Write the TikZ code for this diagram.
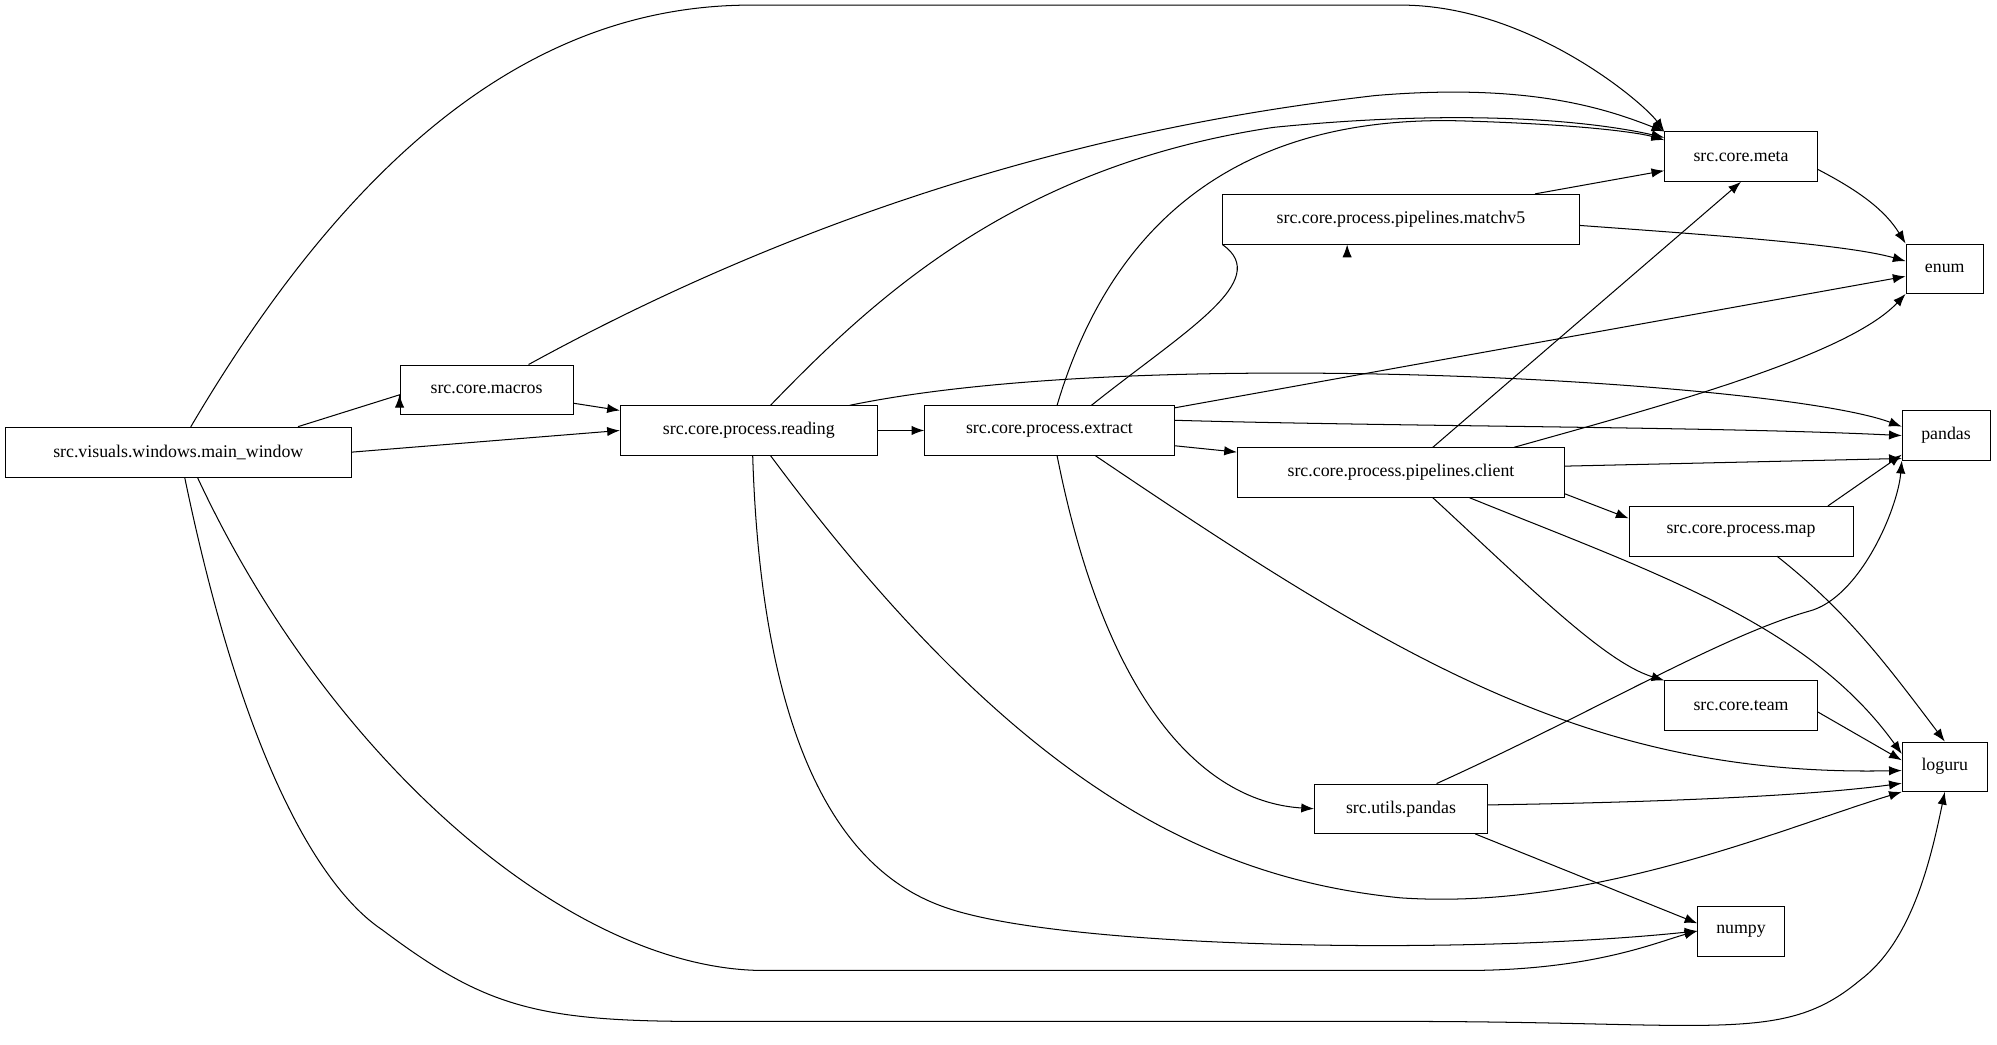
\documentclass[tikz,border=0pt]{standalone}
\usepackage{fontspec}
\setmainfont{Liberation Serif}
\usetikzlibrary{arrows.meta}
\begin{document}
\begin{tikzpicture}[x=0.75pt, y=-0.75pt,
    mod/.style={shape=rectangle, draw, minimum height=29.25pt, inner sep=0pt, font=\fontsize{10.5}{12}\selectfont},
    dep/.style={-{Latex[length=7.5pt,width=5.5pt]}, line width=0.6pt}]
    \useasboundingbox (0,0) rectangle (1568,820);

    \node (mw) at (140, 355) [mod, minimum width=204pt] {src.visuals.windows.main\_window};
    \node (macros) at (382, 306) [mod, minimum width=102pt] {src.core.macros};
    \node (reading) at (588, 338) [mod, minimum width=151.5pt] {src.core.process.reading};
    \node (extract) at (824, 338) [mod, minimum width=147pt] {src.core.process.extract};
    \node (meta) at (1367, 123) [mod, minimum width=90pt] {src.core.meta};
    \node (matchv5) at (1100, 172) [mod, minimum width=210pt] {src.core.process.pipelines.matchv5};
    \node (enum) at (1527, 211) [mod, minimum width=45.75pt] {enum};
    \node (pandas) at (1528, 342) [mod, minimum width=51.75pt] {pandas};
    \node (client) at (1100, 371) [mod, minimum width=192.75pt] {src.core.process.pipelines.client};
    \node (map) at (1367, 417) [mod, minimum width=132pt] {src.core.process.map};
    \node (team) at (1367, 554) [mod, minimum width=90pt] {src.core.team};
    \node (loguru) at (1527, 602) [mod, minimum width=50.25pt] {loguru};
    \node (utils) at (1100, 635) [mod, minimum width=102pt] {src.utils.pandas};
    \node (numpy) at (1367, 731) [mod, minimum width=51pt] {numpy};

    \draw[dep] (mw.north west) ++(146,0) .. controls (300,80) and (450,4) .. (590,4) -- (1100,4) .. controls (1200,4) and (1290,80) .. (meta.north west);
    \draw[dep] (mw) ++(94,-20) -- (macros.west |- 0,310) -- (macros);
    \draw[dep] (mw.east) -- (reading.west);
    \draw[dep] (mw.south) ++(15,0) .. controls (260,600) and (450,762) .. (600,762) -- (1150,762) .. controls (1250,762) and (1300,740) .. (numpy.west);
    \draw[dep] (mw.south) ++(5,0) .. controls (200,640) and (270,710) .. (300,730) .. controls (380,790) and (420,802) .. (550,802) -- (1100,802) .. controls (1350,802) and (1400,820) .. (1460,770) .. controls (1500,740) and (1515,680) .. (loguru.south);
    \draw[dep] (macros.north) ++(33,0) .. controls (700,130) and (950,90) .. (1080,75) .. controls (1200,65) and (1260,85) .. (meta.north west);
    \draw[dep] (macros) -- (reading);
    \draw[dep] (reading) -- (extract);
    \draw[dep] (reading.north) ++(17,0) .. controls (690,230) and (800,130) .. (1000,100) .. controls (1150,85) and (1250,95) .. (meta.west |- 0,108);
    \draw[dep] (reading.north east) ++(-22,0) .. controls (900,270) and (1400,300) .. (pandas.west |- 0,335);
    \draw[dep] (reading.south) ++(17,0) .. controls (800,620) and (950,690) .. (1100,705) .. controls (1250,715) and (1400,650) .. (loguru.south west);
    \draw[dep] (reading.south) ++(3,0) .. controls (600,650) and (700,700) .. (750,715) .. controls (850,745) and (1150,750) .. (numpy.west);
    \draw[dep] (extract.north) ++(6,0) .. controls (880,150) and (1000,90) .. (1150,95) .. controls (1250,98) and (1290,105) .. (meta.west |- 0,110);
    \draw[dep] (extract.north) ++(33,0) .. controls (930,260) and (1000,220) .. (matchv5.south west |- 0,192) ++(98,0);
    \draw[dep] (extract.north east) ++(0,2) -- (enum.west |- 0,217);
    \draw[dep] (extract.east) ++(0,-8) .. controls (1100,335) and (1350,335) .. (pandas.west);
    \draw[dep] (extract.east) ++(0,12) -- (client.west |- 0,355);
    \draw[dep] (extract.south) ++(36,0) .. controls (1100,520) and (1250,610) .. (loguru.west |- 0,605);
    \draw[dep] (extract.south) ++(6,0) .. controls (870,560) and (950,630) .. (utils.west);
    \draw[dep] (matchv5.north east) ++(-35,0) -- (meta.west |- 0,134);
    \draw[dep] (matchv5.east) ++(0,5) .. controls (1350,185) and (1450,192) .. (enum.west |- 0,205);
    \draw[dep] (meta.east) ++(0,10) .. controls (1460,150) and (1480,165) .. (enum.north west);
    \draw[dep] (client.north) ++(25,0) -- (meta.south);
    \draw[dep] (client.north east) ++(-40,0) .. controls (1300,320) and (1450,280) .. (enum.south west);
    \draw[dep] (client.east) ++(0,-5) -- (pandas.west |- 0,360);
    \draw[dep] (client.south east) ++(0,-3) -- (map.west |- 0,407);
    \draw[dep] (client.south) ++(25,0) .. controls (1200,460) and (1260,520) .. (team.north west);
    \draw[dep] (client.south east) ++(-75,0) .. controls (1300,450) and (1420,490) .. (loguru.west |- 0,592);
    \draw[dep] (map.north east) ++(-20,0) -- (pandas.west |- 0,357);
    \draw[dep] (map.south east) ++(-60,0) .. controls (1450,480) and (1480,520) .. (loguru.north);
    \draw[dep] (team.east) ++(0,5) -- (loguru.west |- 0,597);
    \draw[dep] (utils.north) ++(28,0) .. controls (1250,560) and (1350,500) .. (1420,480) .. controls (1460,470) and (1490,400) .. (pandas.south west);
    \draw[dep] (utils.east) ++(0,-3) .. controls (1300,630) and (1420,625) .. (loguru.west |- 0,615);
    \draw[dep] (utils.south east) ++(-10,0) -- (numpy.west |- 0,725);
\end{tikzpicture}
\end{document}
